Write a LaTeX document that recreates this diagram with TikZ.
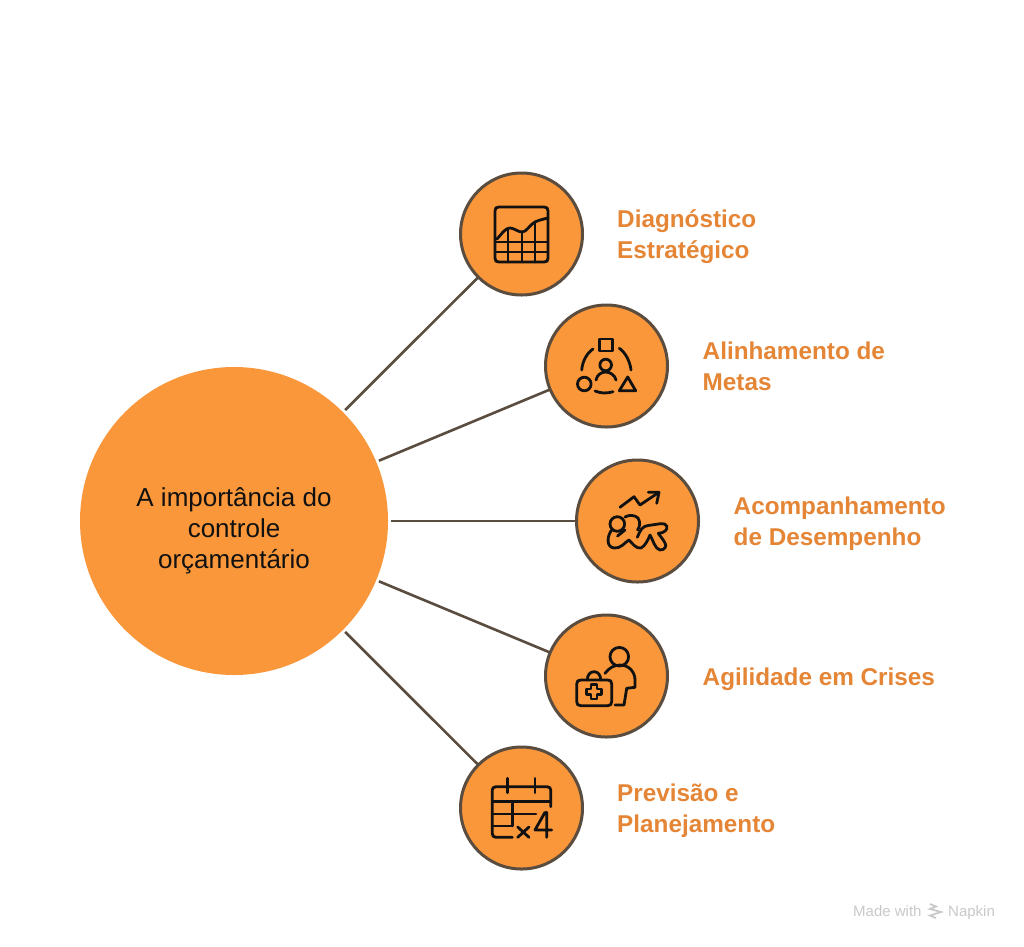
\documentclass[tikz,border=0pt]{standalone}
\usepackage{fontspec}
\setmainfont{Liberation Sans}
\definecolor{fillor}{HTML}{FA973A}
\definecolor{edgeb}{HTML}{5A4C3E}
\definecolor{labelor}{HTML}{E58536}
\definecolor{wm}{HTML}{C9C9C9}
\definecolor{ink}{HTML}{111111}
\tikzset{
  hub/.style={circle,fill=fillor,minimum size=308pt,inner sep=0pt,outer sep=0pt},
  hubtext/.style={align=center,inner sep=0pt,font=\fontsize{26}{31}\selectfont,text=ink},
  sat/.style={circle,fill=fillor,draw=edgeb,line width=3pt,minimum size=122pt,inner sep=0pt,outer sep=0pt},
  lab/.style={anchor=west,align=left,inner sep=0pt,text=labelor,font=\fontsize{24.3}{31}\selectfont\bfseries},
  link/.style={draw=edgeb,line width=2.6pt,shorten <=3pt},
  icon/.style={draw=ink,line width=2.8pt,line cap=round,line join=round},
  wmark/.style={anchor=base west,inner sep=0pt,text=wm,font=\fontsize{15}{16}\selectfont},
}
\begin{document}
\begin{tikzpicture}[x=1pt,y=-1pt]
\fill[white] (0,0) rectangle (1024,946);
\useasboundingbox (0,0) rectangle (1024,946);
\node[hub] (c) at (234,521) {};
\node[hubtext] (ct) at (234,531) {A importância do\\controle\\orçamentário};
\node[sat] (s1) at (521.5,234) {};
\node[sat] (s2) at (606.5,366) {};
\node[sat] (s3) at (637.5,521) {};
\node[sat] (s4) at (606.5,676) {};
\node[sat] (s5) at (521.5,808) {};
\foreach \n in {s1,s2,s3,s4,s5} \draw[link] (c) -- (\n);
\node[lab] (l1) at (617,237) {Diagnóstico\\Estratégico};
\node[lab] (l2) at (702.5,366) {Alinhamento de\\Metas};
\node[lab] (l3) at (733.5,524) {Acompanhamento\\de Desempenho};
\node[lab] (l4) at (702.5,679.5) {Agilidade em Crises};
\node[lab] (l5) at (617,811) {Previsão e\\Planejamento};
% icon 1
\draw[icon] (495,211) .. controls (495,208) and (496,207) .. (499,207) -- (544,207) .. controls (547,207) and (548,208) .. (548,211) -- (548,258) .. controls (548,261) and (547,262) .. (544,262) -- (499,262) .. controls (496,262) and (495,261) .. (495,258) -- cycle;
\draw[icon] (497,239) .. controls (503,232) and (506,228) .. (510,228) .. controls (514,228) and (518,232) .. (522,232) .. controls (527,232) and (529,225) .. (535,222) .. controls (539,220) and (544,219) .. (548,218);
\draw[icon] (495,242) -- (548,242) (495,252) -- (548,252) (508,229) -- (508,262) (522,232) -- (522,262) (535,222) -- (535,262);
% icon 2
\draw[icon] (599.5,339) rectangle (612.5,351);
\draw[icon] (605.7,365) circle[radius=5.8];
\draw[icon] (596,380) .. controls (597,375) and (601,372) .. (605.7,372) .. controls (610,372) and (615,375) .. (616,380);
\draw[icon] (584.3,384) circle[radius=6.8];
\draw[icon] (627.7,377) -- (619.3,390.7) -- (635.7,390.7) -- cycle;
\draw[icon] (593,349) .. controls (587,353) and (582.5,361) .. (581.7,370);
\draw[icon] (619.3,348.3) .. controls (625,352) and (630,361) .. (631,370);
\draw[icon] (595,391) .. controls (601,393.5) and (607,393.5) .. (613,391.7);
% icon 3
\draw[icon] (620,507.3) -- (634,496.7) -- (640,505) -- (658.3,492.7);
\draw[icon] (648.3,492.3) -- (659,492.3) -- (656.7,503.3);
\draw[icon] (617.3,524) circle[radius=7.3];
\draw[icon] (611.7,530) .. controls (607,536) and (606,547) .. (614,548) .. controls (621,549) and (625,542) .. (629,540) .. controls (632,543) and (636,549) .. (641,548) .. controls (645,546) and (648,540) .. (650,535) .. controls (653,540) and (655,549) .. (660,550) .. controls (665,550) and (667,546) .. (665,543) .. controls (663,539) and (660,536) .. (658.3,533.3) .. controls (664,533) and (668,530) .. (666.7,526) .. controls (665,522) and (660,524) .. (648,525.5) .. controls (642,526) and (640,531) .. (637.3,537.3);
\draw[icon] (625,517) .. controls (629,514.5) and (635,515) .. (638,518) .. controls (640.5,522) and (640,527) .. (637.5,530);
\draw[icon] (617.5,536) -- (625,530);
% icon 4
\draw[icon] (619.3,656.7) circle[radius=9.3];
\draw[icon] (605,673.3) .. controls (609,668) and (614,665) .. (620,665) .. controls (629,665) and (635,672) .. (635,680) -- (635,687.3) -- (626.7,688.3) -- (624,705) -- (615,705);
\draw[icon] (576.7,684) .. controls (576.7,681) and (578,680) .. (581,680) -- (607.5,680) .. controls (610.5,680) and (611.7,681) .. (611.7,684) -- (611.7,701.5) .. controls (611.7,704.5) and (610.5,705.7) .. (607.5,705.7) -- (581,705.7) .. controls (578,705.7) and (576.7,704.5) .. (576.7,701.5) -- cycle;
\draw[icon] (587.3,680) .. controls (587.3,675) and (590,671.7) .. (594,671.7) .. controls (598,671.7) and (600.7,675) .. (600.7,680);
\draw[icon] (591,684.5) -- (597,684.5) -- (597,689) -- (601.5,689) -- (601.5,694.5) -- (597,694.5) -- (597,699) -- (591,699) -- (591,694.5) -- (586.5,694.5) -- (586.5,689) -- (591,689) -- cycle;
% icon 5
\draw[icon] (512.3,837.3) -- (496,837.3) .. controls (493.5,837.3) and (492.3,836) .. (492.3,833.5) -- (492.3,790) .. controls (492.3,788) and (493.5,786.7) .. (496,786.7) -- (547,786.7) .. controls (549.5,786.7) and (550.7,788) .. (550.7,790) -- (550.7,806.7);
\draw[icon] (492.3,801.7) -- (550.7,801.7) (492.3,814) -- (536,814) (492.3,826) -- (512.3,826) (512.3,801.7) -- (512.3,826);
\draw[icon] (507.7,778.3) -- (507.7,792.7) (535,778.3) -- (535,792.7);
\draw[icon] (517.7,827) -- (529,837.3) (529,827) -- (517.7,837.3);
\draw[icon] (545,812.3) -- (535,830) -- (551.7,830) (546.7,812.3) -- (546.7,837.3);
% watermark
\node[wmark] (w1) at (853,916) {Made with};
\node[wmark] (w2) at (948,916) {Napkin};
\draw[wm,line width=1.8pt] (930,904) -- (936,906.5) -- (930,909) -- (941,912) -- (930,915.5) -- (936,918);
\end{tikzpicture}
\end{document}
